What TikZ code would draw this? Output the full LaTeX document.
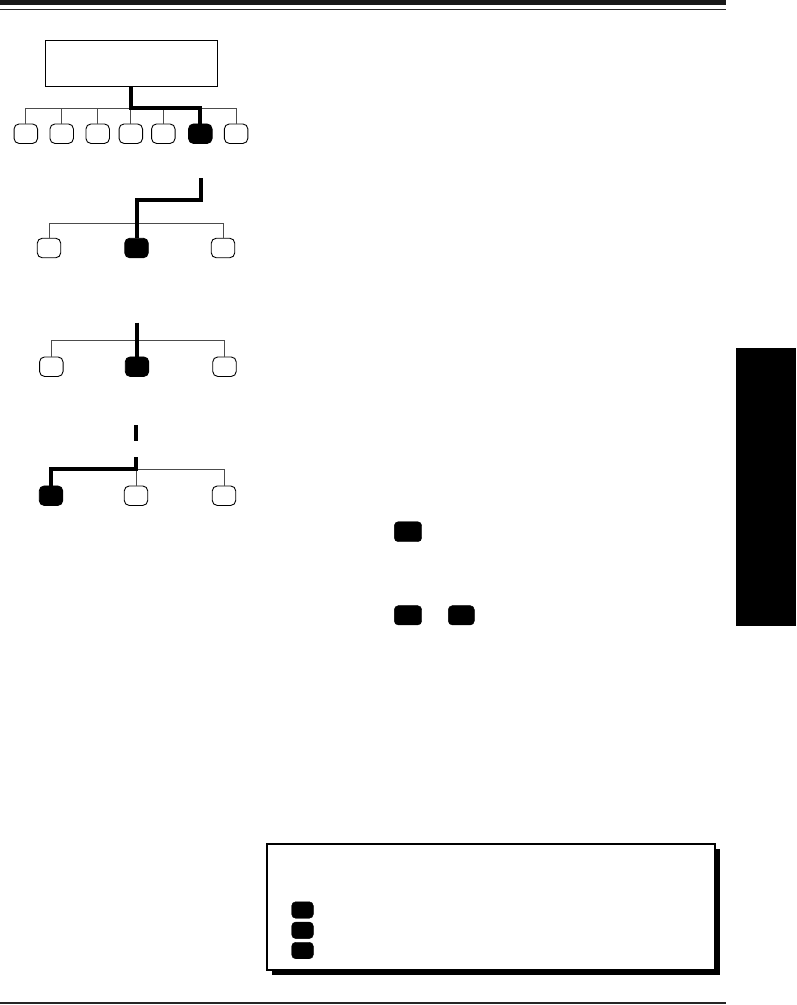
\documentclass[tikz,border=0pt]{standalone}
\begin{document}
\begin{tikzpicture}[x=1pt,y=-1pt,
  key/.style={draw=black,line width=0.9pt,fill=white,rounded corners=5pt,minimum width=23.5pt,minimum height=19.5pt,inner sep=0pt,outer sep=0pt},
  keyon/.style={key,fill=black},
  btn/.style={draw=black,fill=black,rounded corners=4pt,inner sep=0pt,outer sep=0pt},
  bus/.style={draw=black!70,line width=1pt},
  path/.style={draw=black,line width=4pt},
  rule/.style={draw=black!85,line width=1.5pt}]
\useasboundingbox (0,0) rectangle (796,1005);
% page rules
\fill[black!90] (0,0) rectangle (726,5);
\draw[rule] (0,9.5) -- (726,9.5);
\draw[rule] (0,1003) -- (726,1003);
% side tab
\fill[black] (736,348.3) rectangle (796,626);

% ---- section 1 ----
\node[draw=black,line width=1pt,minimum width=172.4pt,minimum height=46.4pt,inner sep=0pt,outer sep=0pt] (box) at (131.5,63.5) {};
\foreach \i/\x in {1/25.8,2/61.7,3/97.7,4/130.8,5/163.3,7/236.1}{
  \node[key] (a\i) at (\x,133.7) {};
}
\node[keyon] (a6) at (200.3,133.7) {};
\draw[bus] (a1.north) -- (25.8,108.3) -- (236.1,108.3) -- (a7.north);
\foreach \i/\x in {2/61.7,3/97.7,4/130.8,5/163.3}{
  \draw[bus] (a\i.north) -- (\x,108.3);
}
\draw[path] (131.3,86.7) -- (131.3,108.3) -- (200.3,108.3) -- (a6.north);

% ---- section 2 ----
\node[key] (b1) at (49,248) {};
\node[keyon] (b2) at (136.5,248) {};
\node[key] (b3) at (223,248) {};
\draw[bus] (b1.north) -- (49,223.3) -- (223,223.3) -- (b3.north);
\coordinate (bs) at (201,178.3);
\draw[path] (bs) -- (201,200) -- (136.5,200) -- (b2.north);

% ---- section 3 ----
\node[key] (c1) at (51.3,366.7) {};
\node[keyon] (c2) at (137,366.7) {};
\node[key] (c3) at (224.5,366.7) {};
\draw[bus] (c1.north) -- (51.3,340.7) -- (224.5,340.7) -- (c3.north);
\coordinate (cs) at (137,322.7);
\draw[path] (cs) -- (c2.north);

% ---- section 4 ----
\node[keyon] (d1) at (51,495.7) {};
\node[key] (d2) at (136,495.7) {};
\node[key] (d3) at (224,495.7) {};
\draw[bus] (136,469) -- (224,469) -- (d3.north);
\draw[bus] (136,469) -- (d2.north);
\coordinate (ds1) at (136,425);
\coordinate (ds2) at (136,440.7);
\coordinate (ds3) at (136,457.3);
\draw[path] (ds1) -- (ds2);
\draw[path,line join=miter] (ds3) -- (136,469) -- (51,469) -- (d1.north);

% ---- inline keys ----
\node[btn,minimum width=27.4pt,minimum height=20pt] (k1) at (408,531.7) {};
\node[btn,minimum width=27.4pt,minimum height=19.3pt] (k2) at (408,615.3) {};
\node[btn,minimum width=26pt,minimum height=19.3pt] (k3) at (461.3,615.3) {};

% ---- note box ----
\fill[black] (271.7,849) rectangle (720,975);
\draw[line width=2pt,fill=white] (266.7,844) rectangle (715,970);
\node[btn,minimum width=21.6pt,minimum height=16.5pt] (m1) at (302.5,910) {};
\node[btn,minimum width=21.6pt,minimum height=16.5pt] (m2) at (302.5,930.3) {};
\node[btn,minimum width=21.6pt,minimum height=16.5pt] (m3) at (302.5,950.5) {};
\end{tikzpicture}
\end{document}
